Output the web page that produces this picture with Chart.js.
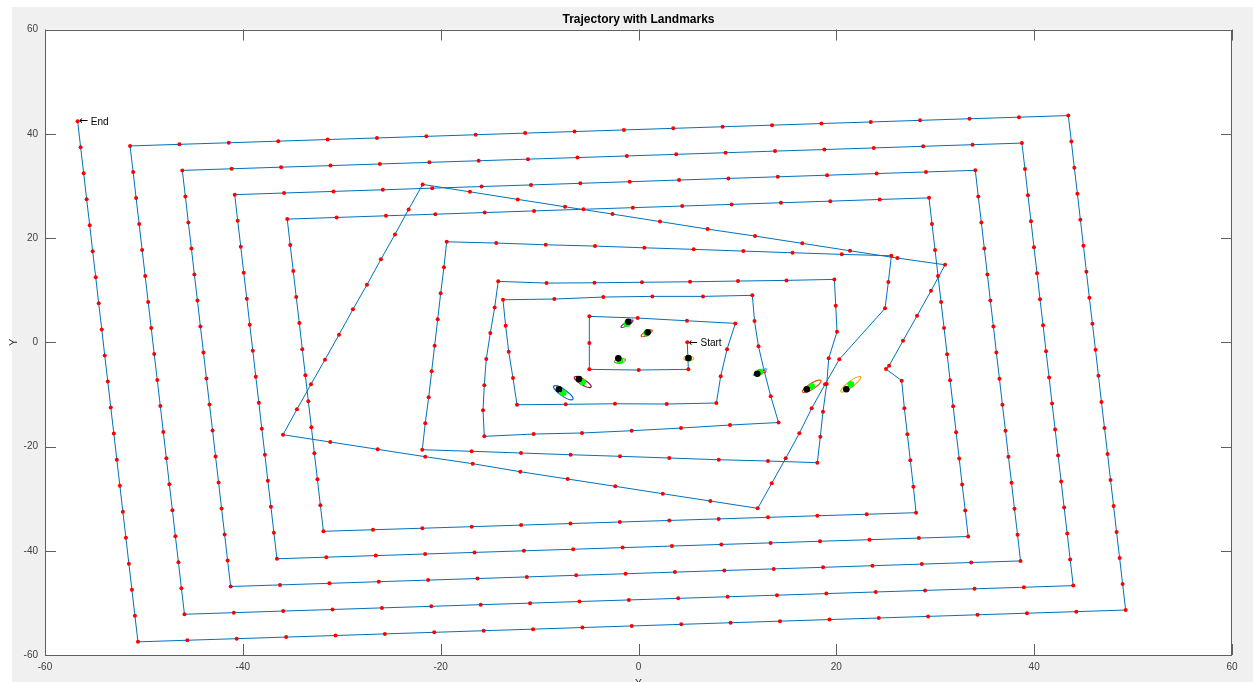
<!DOCTYPE html>
<html>
<head>
<meta charset="utf-8">
<script src="https://cdn.jsdelivr.net/npm/chart.js@4.4.1/dist/chart.umd.min.js"></script>
<style>
  html, body { margin: 0; padding: 0; background: #fff; }
  canvas { display: block; }
</style>
</head>
<body>
<canvas id="traj" width="1253" height="682"></canvas>
<script>
// robot path, one point per odometry step (x, y)
const traj = [
  [4.93,-0.02],[5.04,-5.2],
  [0.02,-5.33],[-4.97,-5.2],
  [-4.97,-0.15],[-4.97,4.97],
  [-0.08,4.64],[4.9,4.12],[9.79,3.62],
  [8.95,-1.36],[8.31,-6.54],[7.87,-11.66],
  [2.85,-11.85],[-2.38,-11.8],[-7.36,-11.91],[-12.28,-11.99],
  [-12.69,-6.87],[-13.12,-1.82],[-13.43,3.16],[-13.7,8.15],
  [-8.51,8.29],[-3.56,8.67],[1.4,8.8],[6.52,8.8],[11.51,9.0],
  [11.73,4.07],[12.13,-0.79],[12.72,-5.58],[13.37,-10.38],[14.16,-15.4],
  [9.25,-15.88],[4.3,-16.46],[-0.69,-16.97],[-5.71,-17.41],[-10.6,-17.61],[-15.59,-18.05],
  [-15.72,-13.06],[-15.59,-8.27],[-15.39,-3.22],[-14.98,1.76],[-14.54,6.69],[-14.18,11.68],
  [-9.3,11.35],[-4.45,11.41],[0.35,11.51],[5.21,11.6],[10.06,11.74],[14.96,11.87],[19.8,12.06],
  [19.94,7.0],[20.07,2.01],[19.23,-3.09],[19.03,-8.02],[18.65,-13.33],[18.38,-18.12],[18.08,-23.11],
  [13.09,-22.78],[8.11,-22.54],[3.11,-22.21],[-1.87,-21.88],[-6.86,-21.58],[-11.88,-21.25],[-16.87,-20.92],[-21.86,-20.62],
  [-21.56,-15.55],[-21.21,-10.57],[-20.91,-5.58],[-20.61,-0.67],[-20.3,4.39],[-20.0,9.38],[-19.67,14.37],[-19.39,19.27],
  [-14.38,19.03],[-9.38,18.7],[-4.4,18.45],[0.59,18.12],[5.58,17.82],[10.6,17.49],[15.57,17.17],[20.55,16.86],[25.56,16.59],
  [25.26,11.55],[24.92,6.5],[20.3,-3.28],[18.86,-8.07],[17.51,-12.68],[16.26,-17.47],[14.88,-22.27],[13.47,-27.06],[12.05,-31.86],
  [7.26,-30.46],[2.45,-29.06],[-2.35,-27.64],[-7.16,-26.24],[-11.95,-24.84],[-16.76,-23.3],[-21.56,-21.96],[-26.37,-20.54],[-31.16,-19.14],[-35.94,-17.74],
  [-34.53,-12.87],[-33.11,-8.07],[-31.7,-3.36],[-30.28,1.44],[-28.87,6.31],[-27.45,11.03],[-26.04,15.9],[-24.62,20.69],[-23.24,25.49],[-21.82,30.28],
  [-17.04,28.86],[-12.21,27.41],[-7.43,25.99],[-2.63,24.59],[2.17,23.15],[6.98,21.71],[11.78,20.37],[16.56,18.97],[21.38,17.55],[26.17,16.15],[30.99,14.86],
  [29.57,9.88],[28.16,5.08],[26.74,0.29],[25.33,-4.51],[25.02,-5.14],[26.61,-7.38],[26.88,-12.68],[27.18,-17.66],[27.48,-22.65],[27.79,-27.71],[28.06,-32.7],
  [23.07,-33.0],[18.08,-33.29],[13.09,-33.59],[8.1,-33.89],[3.11,-34.19],[-1.89,-34.49],[-6.88,-34.78],[-11.87,-35.08],[-16.86,-35.38],[-21.85,-35.68],[-26.84,-35.97],[-31.85,-36.27],
  [-32.16,-31.28],[-32.46,-26.29],[-32.77,-21.29],[-33.07,-16.3],[-33.38,-11.31],[-33.68,-6.32],[-33.99,-1.33],[-34.29,3.67],[-34.6,8.66],[-34.9,13.65],[-35.21,18.64],[-35.51,23.63],
  [-30.52,23.94],[-25.53,24.26],[-20.54,24.57],[-15.55,24.88],[-10.56,25.2],[-5.56,25.51],[-0.57,25.82],[4.42,26.13],[9.41,26.45],[14.4,26.76],[19.39,27.07],[24.38,27.39],[29.37,27.7],
  [29.67,22.7],[29.98,17.7],[30.28,12.71],[30.59,7.71],[30.89,2.71],[31.2,-2.29],[31.5,-7.29],[31.81,-12.28],[32.11,-17.28],[32.42,-22.28],[32.72,-27.28],[33.03,-32.27],[33.33,-37.27],
  [28.34,-37.57],[23.35,-37.88],[18.35,-38.18],[13.36,-38.49],[8.37,-38.79],[3.38,-39.1],[-1.61,-39.4],[-6.6,-39.71],[-11.59,-40.01],[-16.58,-40.32],[-21.57,-40.62],[-26.56,-40.93],[-31.56,-41.23],[-36.55,-41.54],
  [-36.86,-36.55],[-37.16,-31.56],[-37.47,-26.57],[-37.77,-21.58],[-38.08,-16.59],[-38.38,-11.6],[-38.69,-6.61],[-38.99,-1.62],[-39.3,3.37],[-39.6,8.36],[-39.91,13.35],[-40.21,18.34],[-40.52,23.33],[-40.82,28.32],
  [-35.83,28.63],[-30.84,28.94],[-25.85,29.25],[-20.86,29.56],[-15.87,29.87],[-10.87,30.18],[-5.88,30.49],[-0.89,30.8],[4.1,31.12],[9.09,31.43],[14.08,31.74],[19.07,32.05],[24.07,32.36],[29.06,32.67],[34.05,32.98],
  [34.35,27.98],[34.66,22.99],[34.96,17.99],[35.27,13.0],[35.57,8.0],[35.88,3.01],[36.18,-1.99],[36.49,-6.98],[36.79,-11.98],[37.1,-16.97],[37.4,-21.97],[37.71,-26.96],[38.01,-31.96],[38.32,-36.95],[38.62,-41.95],
  [33.63,-42.26],[28.64,-42.56],[23.65,-42.87],[18.66,-43.18],[13.67,-43.48],[8.67,-43.79],[3.68,-44.1],[-1.31,-44.41],[-6.3,-44.71],[-11.29,-45.02],[-16.28,-45.33],[-21.27,-45.63],[-26.26,-45.94],[-31.25,-46.25],[-36.24,-46.55],[-41.23,-46.86],
  [-41.54,-41.87],[-41.84,-36.88],[-42.15,-31.89],[-42.45,-26.9],[-42.76,-21.91],[-43.06,-16.92],[-43.37,-11.93],[-43.68,-6.95],[-43.98,-1.96],[-44.29,3.03],[-44.59,8.02],[-44.9,13.01],[-45.2,18.0],[-45.51,22.99],[-45.81,27.98],[-46.12,32.97],
  [-41.13,33.28],[-36.13,33.59],[-31.14,33.89],[-26.15,34.2],[-21.15,34.51],[-16.16,34.82],[-11.17,35.13],[-6.18,35.43],[-1.18,35.74],[3.81,36.05],[8.8,36.36],[13.8,36.67],[18.79,36.97],[23.78,37.28],[28.78,37.59],[33.77,37.9],[38.76,38.21],
  [39.07,33.22],[39.37,28.22],[39.68,23.23],[39.98,18.23],[40.29,13.24],[40.59,8.25],[40.9,3.25],[41.2,-1.74],[41.51,-6.74],[41.81,-11.73],[42.12,-16.73],[42.42,-21.72],[42.73,-26.71],[43.03,-31.71],[43.34,-36.7],[43.64,-41.7],[43.95,-46.69],
  [38.96,-47.0],[33.97,-47.3],[28.97,-47.61],[23.98,-47.91],[18.99,-48.22],[14.0,-48.52],[9.01,-48.83],[4.01,-49.13],[-0.98,-49.44],[-5.97,-49.74],[-10.96,-50.05],[-15.95,-50.35],[-20.95,-50.66],[-25.94,-50.96],[-30.93,-51.27],[-35.92,-51.57],[-40.91,-51.88],[-45.9,-52.18],
  [-46.21,-47.19],[-46.51,-42.2],[-46.82,-37.21],[-47.12,-32.22],[-47.43,-27.23],[-47.73,-22.24],[-48.04,-17.24],[-48.34,-12.25],[-48.65,-7.26],[-48.96,-2.27],[-49.26,2.72],[-49.57,7.71],[-49.87,12.7],[-50.18,17.69],[-50.48,22.68],[-50.79,27.68],[-51.09,32.67],[-51.4,37.66],
  [-46.41,37.97],[-41.42,38.27],[-36.42,38.58],[-31.43,38.89],[-26.44,39.19],[-21.45,39.5],[-16.46,39.81],[-11.46,40.12],[-6.47,40.42],[-1.48,40.73],[3.51,41.04],[8.5,41.34],[13.5,41.65],[18.49,41.96],[23.48,42.26],[28.47,42.57],[33.46,42.88],[38.46,43.18],[43.45,43.49],
  [43.76,38.5],[44.06,33.5],[44.37,28.51],[44.67,23.52],[44.98,18.52],[45.28,13.53],[45.58,8.53],[45.89,3.54],[46.2,-1.45],[46.5,-6.44],[46.8,-11.44],[47.11,-16.43],[47.42,-21.42],[47.72,-26.42],[48.03,-31.41],[48.33,-36.41],[48.64,-41.4],[48.94,-46.38],[49.25,-51.37],
  [44.26,-51.68],[39.27,-51.98],[34.27,-52.29],[29.28,-52.59],[24.29,-52.9],[19.3,-53.2],[14.3,-53.51],[9.31,-53.81],[4.32,-54.12],[-0.68,-54.43],[-5.67,-54.73],[-10.66,-55.04],[-15.65,-55.34],[-20.65,-55.65],[-25.64,-55.95],[-30.63,-56.26],[-35.62,-56.56],[-40.62,-56.87],[-45.61,-57.17],[-50.6,-57.48],
  [-50.91,-52.49],[-51.21,-47.49],[-51.52,-42.5],[-51.82,-37.5],[-52.13,-32.51],[-52.43,-27.51],[-52.74,-22.52],[-53.04,-17.52],[-53.35,-12.52],[-53.65,-7.53],[-53.96,-2.53],[-54.26,2.46],[-54.57,7.46],[-54.87,12.45],[-55.18,17.45],[-55.48,22.45],[-55.79,27.44],[-56.09,32.44],[-56.4,37.43],[-56.7,42.42]
];

// true landmark positions (black)
const trueLm = [[-1.03,3.93],[0.93,1.9],[-2.04,-3.09],[5.04,-3.03],[-6.02,-7.06],[-8.04,-9.03],[12.01,-6.04],[17.01,-9.03],[21.01,-9.03]];
// estimated landmark positions (green)
const estLm = [[-1.16,3.55],[0.83,1.71],[-1.87,-3.55],[5.07,-3.09],[-5.64,-7.63],[-7.6,-9.69],[12.28,-5.72],[17.51,-8.46],[21.46,-8.07]];
// covariance ellipses of the estimates: semi axes and angle (deg), data units
const ellA = [0.9, 0.8, 0.6, 0.5, 1.3, 1.6, 0.9, 1.45, 1.75];
const ellB = [0.25, 0.3, 0.4, 0.45, 0.4, 0.45, 0.25, 0.4, 0.4];
const ellAng = [50, 50, 30, 0, -52, -55, 42, 52, 57];
const ellColors = ['#7E2F8E', '#D95319', '#77AC30', '#EDB120', '#A2142F', '#0072BD', '#4DBEEE', '#D95319', '#EDB120'];

const xTicks = [-60, -40, -20, 0, 20, 40, 60];
const yTicks = [-60, -40, -20, 0, 20, 40, 60];

const FONT = "'Liberation Sans', Arial, Helvetica, sans-serif";
const toXY = arr => arr.map(p => ({x: p[0], y: p[1]}));

const ellipsePlugin = {
  id: 'covEllipses',
  afterDatasetDraw(chart, args) {
    if (args.index !== 0) return;
    const {ctx, chartArea, scales: {x, y}} = chart;
    const sx = x.getPixelForValue(1) - x.getPixelForValue(0);
    const sy = y.getPixelForValue(0) - y.getPixelForValue(1);
    ctx.save();
    ctx.beginPath();
    ctx.rect(chartArea.left, chartArea.top, chartArea.width, chartArea.height);
    ctx.clip();
    estLm.forEach((p, i) => {
      ctx.save();
      ctx.translate(x.getPixelForValue(p[0]), y.getPixelForValue(p[1]));
      ctx.scale(sx, -sy);
      ctx.rotate(ellAng[i] * Math.PI / 180);
      ctx.beginPath();
      ctx.ellipse(0, 0, ellA[i], ellB[i], 0, 0, 2 * Math.PI);
      ctx.restore();
      ctx.strokeStyle = ellColors[i];
      ctx.lineWidth = 1.2;
      ctx.stroke();
    });
    ctx.restore();
  }
};

// MATLAB-like annotation: arrow glyph then the word
function arrowLabel(ctx, text, px, py) {
  ctx.font = '11px "DejaVu Sans", sans-serif';
  ctx.fillText('\u2190', px + 1, py);
  const w = ctx.measureText('\u2190').width;
  ctx.font = '10px ' + FONT;
  ctx.fillText(text, px + w + 4, py + 0.5);
}

const framePlugin = {
  id: 'matlabFrame',
  beforeDraw(chart) {
    const {ctx, chartArea: a} = chart;
    ctx.save();
    ctx.fillStyle = '#fff';
    ctx.fillRect(0, 0, chart.width, chart.height);
    ctx.fillStyle = '#f0f0f0';
    ctx.fillRect(12, 7, chart.width - 12, chart.height - 7);
    ctx.fillStyle = '#fff';
    ctx.fillRect(a.left, a.top, a.right - a.left, a.bottom - a.top);
    ctx.restore();
  },
  afterDraw(chart) {
    const {ctx, chartArea: a, scales: {x, y}} = chart;
    const tl = 11;
    ctx.save();
    ctx.strokeStyle = '#5f5f5f';
    ctx.lineWidth = 1;
    ctx.beginPath();
    ctx.rect(Math.round(a.left) + 0.5, Math.round(a.top) + 0.5, Math.round(a.right - a.left) - 1, Math.round(a.bottom - a.top) - 1);
    xTicks.forEach(v => {
      const px = Math.round(x.getPixelForValue(v)) + 0.5;
      ctx.moveTo(px, a.bottom); ctx.lineTo(px, a.bottom - tl);
      ctx.moveTo(px, a.top); ctx.lineTo(px, a.top + tl);
    });
    yTicks.forEach(v => {
      const py = Math.round(y.getPixelForValue(v)) + 0.5;
      ctx.moveTo(a.left, py); ctx.lineTo(a.left + tl, py);
      ctx.moveTo(a.right, py); ctx.lineTo(a.right - tl, py);
    });
    ctx.stroke();

    // axis labels
    ctx.fillStyle = '#262626';
    ctx.font = '11px ' + FONT;
    ctx.textAlign = 'center';
    ctx.textBaseline = 'middle';
    ctx.fillText('X', (a.left + a.right) / 2, 684);
    ctx.save();
    ctx.translate(14, (a.top + a.bottom) / 2);
    ctx.rotate(-Math.PI / 2);
    ctx.fillText('Y', 0, 0);
    ctx.restore();

    // start / end annotations
    ctx.textAlign = 'left';
    ctx.fillStyle = '#000';
    const s = traj[0], e = traj[traj.length - 1];
    arrowLabel(ctx, 'Start', x.getPixelForValue(s[0]), y.getPixelForValue(s[1]) + 0.5);
    arrowLabel(ctx, 'End', x.getPixelForValue(e[0]), y.getPixelForValue(e[1]) + 0.5);
    ctx.restore();
  }
};

new Chart(document.getElementById('traj'), {
  type: 'scatter',
  data: {
    datasets: [
      {
        data: toXY(traj),
        showLine: true,
        borderColor: '#0072BD',
        borderWidth: 1,
        tension: 0,
        pointRadius: 2,
        pointBackgroundColor: '#ff0000',
        pointBorderWidth: 0,
        order: 3
      },
      {
        data: toXY(estLm),
        pointRadius: 3.3,
        pointBackgroundColor: '#00ff00',
        pointBorderWidth: 0,
        order: 2
      },
      {
        data: toXY(trueLm),
        pointRadius: 3.3,
        pointBackgroundColor: '#000000',
        pointBorderWidth: 0,
        order: 1
      }
    ]
  },
  options: {
    responsive: false,
    animation: false,
    devicePixelRatio: 1,
    layout: {padding: {left: 0, right: 21, top: 0, bottom: 0}},
    plugins: {
      legend: {display: false},
      tooltip: {enabled: false},
      title: {
        display: true,
        text: 'Trajectory with Landmarks',
        fullSize: false,
        color: '#000',
        font: {family: FONT, size: 12, weight: 'bold'},
        padding: {top: 12, bottom: 3.1}
      }
    },
    scales: {
      x: {
        type: 'linear', min: -60, max: 60,
        grid: {display: false, drawTicks: false},
        border: {display: false},
        ticks: {stepSize: 20, maxRotation: 0, padding: 6, color: '#404040', font: {family: FONT, size: 10}},
        afterFit(s) { s.height = 27; }
      },
      y: {
        type: 'linear', min: -60, max: 60,
        grid: {display: false, drawTicks: false},
        border: {display: false},
        ticks: {stepSize: 20, padding: 7, color: '#404040', font: {family: FONT, size: 10}},
        afterFit(s) { s.width = 45; }
      }
    }
  },
  plugins: [ellipsePlugin, framePlugin]
});
</script>
</body>
</html>
